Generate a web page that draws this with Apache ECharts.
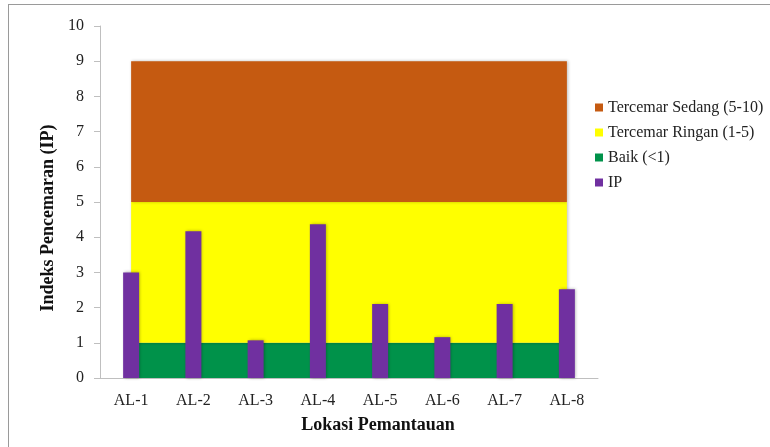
<!DOCTYPE html>
<html>
<head>
<meta charset="utf-8">
<script src="https://cdn.jsdelivr.net/npm/echarts@6/dist/echarts.min.js"></script>
<style>
html,body{margin:0;padding:0;background:#fff;}
#frame{position:absolute;left:8px;top:4px;width:762px;height:443px;border-left:1px solid #9a9a9a;border-top:1px solid #9a9a9a;}
#chart{position:absolute;left:0;top:0;width:770px;height:447px;}
</style>
</head>
<body>
<div id="frame"></div>
<div id="chart"></div>
<script>
var categories = ['AL-1','AL-2','AL-3','AL-4','AL-5','AL-6','AL-7','AL-8'];
var ipValues = [3.0, 4.17, 1.07, 4.37, 2.1, 1.16, 2.1, 2.52];
var baik = [1, 1, 1, 1, 1, 1, 1, 1];
var ringan = [4, 4, 4, 4, 4, 4, 4, 4];
var sedang = [4, 4, 4, 4, 4, 4, 4, 4];
var yTicks = [0, 10, 1];

var serif = "'Liberation Serif', 'Times New Roman', serif";
var chart = echarts.init(document.getElementById('chart'));
function areaSeries(name, data, color) {
  return {
    name: name, type: 'line', stack: 'zone', data: data,
    symbol: 'none', showSymbol: false,
    lineStyle: { width: 0, color: color },
    itemStyle: { color: color },
    areaStyle: { color: color, opacity: 1, shadowColor: 'rgba(0,0,0,0.25)', shadowBlur: 3, shadowOffsetX: 1 },
    emphasis: { disabled: true },
    z: 1
  };
}
chart.setOption({
  animation: false,
  backgroundColor: 'transparent',
  grid: { left: 100, right: 172, top: 26, bottom: 69, containLabel: false },
  legend: {
    orient: 'vertical', left: 595, top: 99, padding: 0,
    icon: 'rect', itemWidth: 8, itemHeight: 8, itemGap: 8,
    textStyle: { fontFamily: serif, fontSize: 16, color: '#222', lineHeight: 17 },
    data: ['Tercemar Sedang (5-10)', 'Tercemar Ringan (1-5)', 'Baik (<1)', 'IP']
  },
  xAxis: {
    type: 'category', data: categories, boundaryGap: true,
    axisLine: { lineStyle: { color: '#bfbfbf', width: 1 } },
    axisTick: { show: false },
    axisLabel: { fontFamily: serif, fontSize: 16, color: '#222', margin: 15 },
    name: 'Lokasi Pemantauan', nameLocation: 'middle', nameGap: 38,
    nameTextStyle: { fontFamily: serif, fontSize: 18, fontWeight: 'bold', color: '#111', padding: [0, 0, 0, 58] }
  },
  yAxis: {
    type: 'value', min: yTicks[0], max: yTicks[1], interval: yTicks[2],
    axisLine: { show: true, lineStyle: { color: '#bfbfbf', width: 1 } },
    axisTick: { show: true, length: 6, lineStyle: { color: '#bfbfbf' } },
    splitLine: { show: false },
    axisLabel: { fontFamily: serif, fontSize: 16, color: '#222', margin: 16 },
    name: 'Indeks Pencemaran (IP)', nameLocation: 'middle', nameRotate: 90, nameGap: 43,
    nameTextStyle: { fontFamily: serif, fontSize: 18, fontWeight: 'bold', color: '#111', padding: [0, 32, 0, 0] }
  },
  series: [
    areaSeries('Baik (<1)', baik, '#00924A'),
    areaSeries('Tercemar Ringan (1-5)', ringan, '#FFFF00'),
    areaSeries('Tercemar Sedang (5-10)', sedang, '#C55A11'),
    {
      name: 'IP', type: 'bar', data: ipValues, barWidth: 16,
      itemStyle: { color: '#7030A0', shadowColor: 'rgba(0,0,0,0.3)', shadowBlur: 3, shadowOffsetX: 1 },
      z: 3
    }
  ]
});
</script>
</body>
</html>
